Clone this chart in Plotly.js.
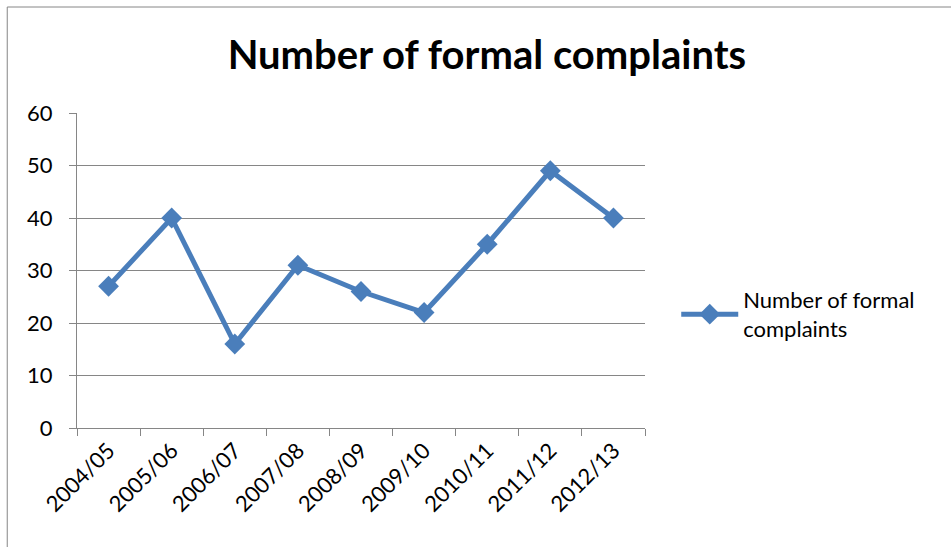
<!DOCTYPE html>
<html><head><meta charset="utf-8">
<script src="https://cdn.plot.ly/plotly-3.0.1.min.js"></script>
<style>html,body{margin:0;padding:0;background:#fff}#c{width:951px;height:547px}</style>
</head><body><div id="c"></div>
<script>
const categories = ["2004/05","2005/06","2006/07","2007/08","2008/09","2009/10","2010/11","2011/12","2012/13"];
const complaints = [27, 40, 16, 31, 26, 22, 35, 49, 40];
const seriesName = "Number of formal<br>complaints";
const yTicks = [0,10,20,30,40,50,60];

const FONT = "Lato, 'Open Sans', sans-serif";
const trace = {
  x: categories, y: complaints, type: "scatter", mode: "lines+markers",
  name: seriesName,
  line: {color: "#4A7EBB", width: 5},
  marker: {symbol: "diamond", size: 16, color: "#4A7EBB"}
};
const layout = {
  width: 951, height: 547,
  margin: {l: 77, r: 306, t: 113, b: 119},
  paper_bgcolor: "#fff", plot_bgcolor: "#fff",
  font: {family: FONT, size: 22, color: "#000"},
  title: {text: "<b>Number of formal complaints</b>", font: {family: FONT, size: 40, color: "#000"},
          x: 0.512, xref: "container", xanchor: "center", y: 0.9, yref: "container", yanchor: "middle"},
  showlegend: true,
  legend: {x: 1.055, y: 0.36, xanchor: "left", yanchor: "middle", font: {family: FONT, size: 22},
           bgcolor: "rgba(0,0,0,0)", itemwidth: 57, tracegroupgap: 0},
  xaxis: {type: "category", tickson: "boundaries", ticks: "outside", ticklen: 7, tickcolor: "#868686",
          showline: true, linecolor: "#868686", linewidth: 1, showgrid: false, tickangle: -45,
          tickfont: {family: FONT, size: 22}, range: [-0.5, 8.5], fixedrange: true},
  yaxis: {range: [0, 60], tickvals: yTicks, ticks: "outside", ticklen: 7, tickcolor: "#868686",
          showline: true, linecolor: "#868686", linewidth: 1, showgrid: true, gridcolor: "#868686",
          gridwidth: 1, zeroline: false, tickfont: {family: FONT, size: 22}, ticklabelstandoff: 12},
  shapes: [{type: "rect", xref: "paper", yref: "paper", x0: -0.1228, x1: 3, y0: -2, y1: 1.3365,
            line: {color: "#868686", width: 1}, fillcolor: "rgba(0,0,0,0)", layer: "below"}]
};
Plotly.newPlot("c", [trace], layout, {displayModeBar: false, staticPlot: true});
</script></body></html>
